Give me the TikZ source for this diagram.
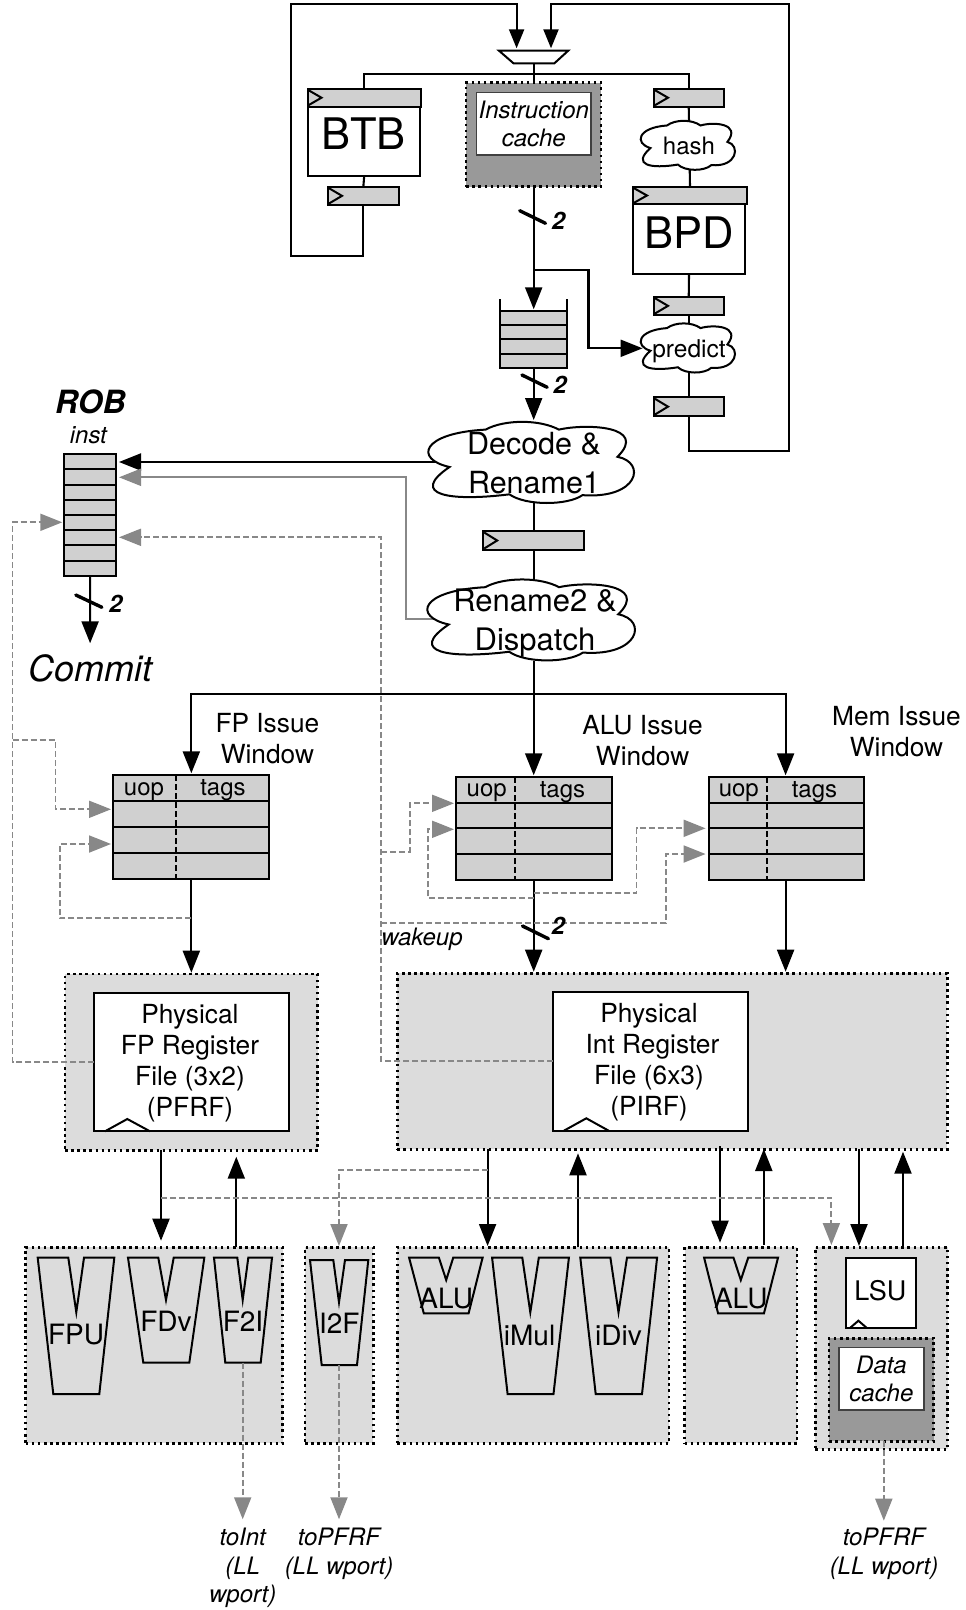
\documentclass[tikz,border=0pt]{standalone}
\usepackage{fontspec}
\setmainfont{TeX Gyre Heros}
\usetikzlibrary{arrows.meta,calc}
\definecolor{cellgray}{HTML}{D0D0D0}
\definecolor{panelgray}{HTML}{DCDCDC}
\definecolor{cachegray}{HTML}{999999}
\definecolor{wiregray}{HTML}{888888}
\newcommand\fs[2]{\fontsize{#1}{#2}\selectfont}
\newcommand\bx[7]{%
  \pgfmathsetmacro\bxcx{(#3+#5)/2}\pgfmathsetmacro\bxcy{(#4+#6)/2}%
  \pgfmathsetmacro\bxw{#5-#3}\pgfmathsetmacro\bxh{#6-#4}%
  \node[#1,minimum width=\bxw pt,minimum height=\bxh pt,inner sep=0pt,outer sep=0pt] (#2) at (\bxcx,\bxcy) {#7};}
\newcommand\rg[5]{%
  \bx{cell}{#1}{#2}{#3}{#4}{#5}{}%
  \draw[solidbox] ($(#1.north west)+(1,1.5)$) -- ($(#1.west)+(14,0)$) -- ($(#1.south west)+(1,-1.5)$);}
\newcommand\cloudn[6]{%
  \pgfmathsetmacro\cw{#4-#2}\pgfmathsetmacro\ch{#5-#3}%
  \begin{scope}[shift={(#2,#3)},x=\cw pt,y=-\ch pt]
  \draw[solidbox,fill=white,line join=miter]
   (.098,.555) .. controls (-.07,.46) and (-.04,.14) .. (.27,.097)
   .. controls (.36,-.03) and (.53,-.03) .. (.62,.097)
   .. controls (.75,.02) and (1.05,.05) .. (.90,.43)
   .. controls (1.04,.5) and (1.0,.95) .. (.733,.9)
   .. controls (.66,1.03) and (.46,1.03) .. (.384,.89)
   .. controls (.1,.98) and (-.1,.9) .. cycle;
  \end{scope}
  \bx{}{#1}{#2}{#3}{#4}{#5}{}
  #6}
\tikzset{
  solidbox/.style={draw=black,line width=2pt},
  cell/.style={solidbox,fill=cellgray},
  plain/.style={solidbox,fill=white},
  panel/.style={draw=black,fill=panelgray,line width=2.5pt,dash pattern=on 2.5pt off 3.6pt},
  cachebox/.style={draw=black,fill=cachegray,line width=2.5pt,dash pattern=on 2.5pt off 3.6pt},
  cacheinner/.style={draw=black!75,fill=white,line width=1.4pt,font=\fs{24}{28.5}\itshape,align=center},
  wire/.style={draw=black,line width=2.1pt,line join=miter},
  big/.style={-{Triangle[length=22pt,width=17pt]}},
  small/.style={-{Triangle[length=19pt,width=15pt]}},
  gwire/.style={draw=wiregray,line width=2pt,-{Triangle[length=22pt,width=17pt]}},
  gdash/.style={draw=wiregray,line width=1.9pt,dash pattern=on 6pt off 3pt,-{Triangle[length=22pt,width=17pt]}},
  slash/.style={draw=black,line width=3.4pt,line cap=round},
  two/.style={font=\fs{24}{28}\bfseries\itshape,inner sep=0pt},
  lbl/.style={font=\fs{26.3}{31},align=center,inner sep=0pt},
  ilbl/.style={font=\fs{24}{28.5}\itshape,align=center,inner sep=0pt},
  ulbl/.style={font=\fs{28}{32},inner sep=0pt},
  wlbl/.style={font=\fs{24}{28},inner sep=0pt},
  row/.style={solidbox},
  dashrow/.style={draw=black,line width=1.8pt,dash pattern=on 6pt off 3pt},
}
\begin{document}
\begin{tikzpicture}[x=1pt,y=-1pt]
\useasboundingbox (0,0) rectangle (966,1610);

% ---------- panels
\bx{panel}{fppanel}{65}{974}{317.7}{1150.3}{}
\bx{panel}{intpanel}{397.3}{973.3}{947.3}{1149.3}{}
\bx{panel}{fpunits}{25.7}{1247.3}{282.7}{1443.3}{}
\bx{panel}{i2funit}{305}{1247.3}{373.3}{1443.3}{}
\bx{panel}{intunits}{397.3}{1247.3}{669.2}{1443.3}{}
\bx{panel}{alu2unit}{684.6}{1247.3}{797}{1443.3}{}
\bx{panel}{memunit}{815.4}{1247.3}{947.7}{1449.3}{}

% ---------- front end boxes
\draw[solidbox,fill=white] (499,50.7) -- (568.2,50.7) -- (554.4,63.3) -- (513.5,63.3) -- cycle;
\coordinate (muxout) at (533.7,63.3);
\coordinate (muxL) at (516.6,48.3);
\coordinate (muxR) at (551,48.3);

\rg{btbreg}{307.5}{88.7}{421}{106.7}
\bx{plain}{btb}{308}{106.7}{420.4}{176}{}
\rg{btbout}{328}{186.7}{398.7}{205}
\bx{cachebox}{icache}{466.2}{82.7}{601.2}{186.7}{}
\bx{cacheinner}{icachein}{476.6}{92.7}{591}{155}{Instruction\\cache}
\rg{hreg}{654}{88.7}{723.5}{106.7}
\rg{bpdreg}{633}{186.7}{747}{204.3}
\bx{plain}{bpd}{633}{204.3}{745}{274.3}{}
\rg{preg1}{654}{296.7}{723.5}{315}
\rg{preg2}{654}{397.3}{723.5}{416}

% fifo
\bx{cell}{fifo}{500.2}{310.7}{567.2}{368.3}{}
\draw[row] (fifo.west |- 0,325) -- (fifo.east |- 0,325);
\draw[row] (fifo.west |- 0,339.3) -- (fifo.east |- 0,339.3);
\draw[row] (fifo.west |- 0,354) -- (fifo.east |- 0,354);
\draw[row] (fifo.north west) -- ++(0,-11.7);
\draw[row] (fifo.north east) -- ++(0,-11.7);

% ROB
\bx{cell}{rob}{64}{454}{116.2}{575.7}{}
\foreach \yy in {469.3,484.6,499.9,515,530.3,545.4,560.7}
  \draw[row] (rob.west |- 0,\yy) -- (rob.east |- 0,\yy);

\rg{rnreg}{483.2}{531}{584.2}{550}

% ---------- issue windows
\bx{cell}{fpwin}{113.4}{775}{269.3}{879.3}{}
\foreach \yy in {800.7,827,853.3}
  \draw[row] (fpwin.west |- 0,\yy) -- (fpwin.east |- 0,\yy);
\draw[dashrow] (175.6,775) -- (175.6,879.3);
\bx{cell}{aluwin}{456}{777.3}{611.8}{880.3}{}
\foreach \yy in {802.7,828.3,854.3}
  \draw[row] (aluwin.west |- 0,\yy) -- (aluwin.east |- 0,\yy);
\draw[dashrow] (515,777.3) -- (515,880.3);
\bx{cell}{memwin}{708.6}{777.3}{863.8}{880.3}{}
\foreach \yy in {802.7,828.3,854.3}
  \draw[row] (memwin.west |- 0,\yy) -- (memwin.east |- 0,\yy);
\draw[dashrow] (767,777.3) -- (767,880.3);

% ---------- register files
\bx{plain}{pfrf}{94.3}{993.3}{288.7}{1131.3}{}
\draw[solidbox] (105,1131.3) -- (127.3,1119) -- (150,1131.3);
\bx{plain}{pirf}{553}{992.3}{748}{1130.7}{}
\draw[solidbox] (563.9,1130.7) -- (586.3,1118.3) -- (608.7,1130.7);

% ---------- functional units
\tikzset{unit/.style={solidbox,line join=miter}}
\draw[unit] (37.7,1257.7) -- (68.3,1257.7) -- (76.3,1312.3) -- (84,1257.7) -- (114.3,1257.7) -- (99.3,1394) -- (53.3,1394) -- cycle;
\draw[unit] (128,1257.7) -- (158.3,1257.7) -- (166,1300) -- (173.7,1257.7) -- (204.3,1257.7) -- (189.3,1362.7) -- (143.3,1362.7) -- cycle;
\draw[unit] (214,1257.7) -- (237.3,1257.7) -- (242.7,1300) -- (248.3,1257.7) -- (272,1257.7) -- (260.7,1362.7) -- (225.3,1362.7) -- cycle;
\draw[unit] (310,1260) -- (333.3,1260) -- (339,1302.3) -- (345,1260) -- (368.3,1260) -- (357,1365) -- (321.7,1365) -- cycle;
\draw[unit] (409.1,1257.7) -- (438.9,1257.7) -- (446.2,1280) -- (453.2,1257.7) -- (482.6,1257.7) -- (468.6,1313.3) -- (423.8,1313.3) -- cycle;
\draw[unit] (492.1,1257.7) -- (522.3,1257.7) -- (530.3,1312.3) -- (538.8,1257.7) -- (568.9,1257.7) -- (553.5,1394) -- (507.6,1394) -- cycle;
\draw[unit] (580.3,1257.7) -- (610.4,1257.7) -- (618.5,1312.3) -- (627,1257.7) -- (657.1,1257.7) -- (642,1394) -- (595.7,1394) -- cycle;
\draw[unit] (704.1,1257.7) -- (733.5,1257.7) -- (740.8,1280) -- (748.2,1257.7) -- (778,1257.7) -- (764,1313.3) -- (718.1,1313.3) -- cycle;
\coordinate (f2ibot) at (242.7,1362.7);
\coordinate (i2fbot) at (339,1365);

\bx{plain}{lsu}{846.3}{1258.3}{916.4}{1327.7}{}
\draw[solidbox] (850.3,1327.7) -- (858.4,1320.7) -- (866.5,1327.7);
\bx{cachebox}{dcache}{829}{1338.3}{933.7}{1441.3}{}
\bx{cacheinner}{dcachein}{839}{1347.7}{923.8}{1410}{Data\\cache}

% ---------- front end connectors
\coordinate (fetchbus) at (533.7,74);
\coordinate (lbot) at (290.7,255.7);
\coordinate (ltop) at (290.7,4);
\coordinate (rbot) at (789,451);
\coordinate (rtop) at (789,4);
\draw[wire,small] (btbout.south) |- (lbot) -- (ltop) -| (muxL);
\draw[wire,small] (preg2.south) |- (rbot) -- (rtop) -| (muxR);
\draw[wire] (muxout) -- (icache.north);
\draw[wire] (btbreg.north) |- (fetchbus) -| (hreg.north);
\draw[wire] (btb.south) -- (btbout.north);
\draw[wire] (hreg.south) -- (bpdreg.north);
\draw[wire] (bpd.south) -- (preg1.north);
\draw[wire] (preg1.south) -- (preg2.north);
\draw[wire,big,shorten >=1.4pt] (icache.south) -- (fifo.north);
\draw[wire,big,shorten >=1.7pt] (fifo.south) -- (533.7,421.7);
\coordinate (ibr) at (533.7,270);
\coordinate (ibrc) at (588.5,270);
\coordinate (predtip) at (642.6,348.3);
\draw[slash] (519.7,210.7) -- (545.5,223.3);
\draw[slash] (522,375) -- (547.2,387.3);

% decode / rename connectors (under the clouds)
\coordinate (decL) at (480,462);
\coordinate (robA) at (rob.east |- 0,462);
\draw[wire,big,shorten >=2.8pt] (decL) -- (robA);
\coordinate (renL) at (480,619.3);
\coordinate (renC) at (406,619.3);
\coordinate (robB) at (rob.east |- 0,477.3);
\draw[gwire,shorten >=2.8pt] (renL) -- (renC) |- (robB);
\draw[wire] (533.7,480) -- (rnreg.north);
\draw[wire] (rnreg.south) -- (533.7,600);

% clouds
\cloudn{decode}{429}{421.7}{638.4}{503.3}{\node[font=\fs{30.5}{39},align=center,inner sep=0pt] (decodetxt) at (534,463) {Decode \&\\Rename1};}
\cloudn{rename}{428}{579.3}{639.4}{660.7}{\node[font=\fs{31}{39},align=center,inner sep=0pt] (renametxt) at (535,623.5) {Rename2 \&\\Dispatch};}
\cloudn{hash}{641}{120.7}{737}{170}{\node[font=\fs{24}{27},inner sep=0pt] (hashtxt) at (689,145.5) {hash};}
\cloudn{predict}{641}{323.3}{737}{372.7}{\node[font=\fs{24.5}{27},inner sep=0pt] (predicttxt) at (689,351) {predict};}
\draw[wire,big] (ibr) -- (ibrc) |- (predtip);

% ---------- dispatch
\coordinate (dispbus) at (533.7,694);
\draw[wire,big,shorten >=1.7pt] (rename.south) -- (dispbus) -| (fpwin.north);
\draw[wire,big,shorten >=2pt] (dispbus) -| (memwin.north -| 785.6,0);
\draw[wire,big,shorten >=2pt] (dispbus) -- (533.7,777.3);

% ROB out
\coordinate (commitin) at (90.1,643.3);
\draw[wire,big] (rob.south) -- (commitin);
\draw[slash] (75.8,595) -- (101.9,607.3);

% window outs
\draw[wire,big,shorten >=1.3pt] (fpwin.south) -- (fppanel.north);
\coordinate (alutop) at (533.7,880.3);
\coordinate (alubot) at (533.7,973.3);
\draw[wire,big,shorten >=1.6pt] (alutop) -- (alubot);
\coordinate (memtop) at (785.6,880.3);
\coordinate (membot) at (785.6,973.3);
\draw[wire,big,shorten >=1.6pt] (memtop) -- (membot);
\draw[slash] (522.5,926) -- (548.4,938.7);

% ---------- dashed feedback
\coordinate (busLb) at (12.5,1062.3);
\coordinate (busLt) at (12.5,522.3);
\coordinate (robC) at (rob.west |- 0,522.3);
\draw[gdash,shorten >=1.7pt] (pfrf.west) -- (busLb) -- (busLt) -- (robC);
\coordinate (fwa) at (12.5,740);
\coordinate (fwb) at (55.5,740);
\coordinate (fwc) at (fpwin.west |- 0,809.3);
\draw[gdash,shorten >=2.4pt] (fwa) -- (fwb) |- (fwc);
\coordinate (fwd) at (191.35,918);
\coordinate (fwe) at (59.8,918);
\coordinate (fwf) at (fpwin.west |- 0,844);
\draw[gdash,shorten >=2.4pt] (fwd) -- (fwe) |- (fwf);

\coordinate (busIb) at (381.4,1061);
\coordinate (busIt) at (381.4,537.3);
\coordinate (robD) at (rob.east |- 0,537.3);
\draw[gdash,shorten >=2.8pt] (pirf.west |- busIb) -- (busIb) -- (busIt) -- (robD);
\coordinate (awa) at (381.4,851.7);
\coordinate (awb) at (409.7,851.7);
\coordinate (awc) at (aluwin.west |- 0,803.3);
\draw[gdash,shorten >=2pt] (awa) -- (awb) |- (awc);
\coordinate (awd) at (533.7,898.3);
\coordinate (awe) at (427.6,898.3);
\coordinate (awf) at (aluwin.west |- 0,829.3);
\draw[gdash,shorten >=2pt] (awd) -- (awe) |- (awf);
\coordinate (mwa) at (533.7,893.3);
\coordinate (mwb) at (636.5,893.3);
\coordinate (mwc) at (memwin.west |- 0,828.3);
\draw[gdash,shorten >=3pt] (mwa) -- (mwb) |- (mwc);
\coordinate (mwd) at (381.4,923.3);
\coordinate (mwe) at (666,923.3);
\coordinate (mwf) at (memwin.west |- 0,854);
\draw[gdash,shorten >=3pt] (mwd) -- (mwe) |- (mwf);

% ---------- regfile <-> units
\coordinate (fpdn) at (161,1150.3);
\coordinate (fpdnb) at (161,1240.7);
\draw[wire,big] (fpdn) -- (fpdnb);
\coordinate (fpup) at (236.3,1246.7);
\coordinate (fpupt) at (236.3,1156.7);
\draw[wire,big] (fpup) -- (fpupt);
\coordinate (i1dn) at (487.6,1149.3);
\coordinate (i1dnb) at (487.6,1246);
\draw[wire,big] (i1dn) -- (i1dnb);
\coordinate (i1up) at (578,1247.3);
\coordinate (i1upt) at (578,1153.3);
\draw[wire,big] (i1up) -- (i1upt);
\coordinate (i2dn) at (720,1146);
\coordinate (i2dnb) at (720,1242.7);
\draw[wire,big] (i2dn) -- (i2dnb);
\coordinate (i2up) at (763.8,1245);
\coordinate (i2upt) at (763.8,1149);
\draw[wire,big] (i2up) -- (i2upt);
\coordinate (m1dn) at (859,1149.3);
\coordinate (m1dnb) at (859,1246);
\draw[wire,big] (m1dn) -- (m1dnb);
\coordinate (m1up) at (903,1247.3);
\coordinate (m1upt) at (903,1151.7);
\draw[wire,big] (m1up) -- (m1upt);

% dashed bypass
\coordinate (byA) at (161,1197.7);
\coordinate (byB) at (831.4,1245);
\draw[gdash] (byA) -| (byB);
\coordinate (byC) at (487.6,1170);
\coordinate (byD) at (339,1246);
\draw[gdash] (byC) -| (byD);

% out of units
\coordinate (toint) at (242.7,1519.3);
\draw[gdash] (f2ibot) -- (toint);
\coordinate (topfrfa) at (339,1519.3);
\draw[gdash] (i2fbot) -- (topfrfa);
\coordinate (topfrfb) at (883.8,1520.7);
\draw[gdash] (dcache.south -| topfrfb) -- (topfrfb);

% ---------- labels
\node[font=\fs{43.5}{48},inner sep=0pt] (btbtxt) at (363.7,134) {BTB};
\node[font=\fs{43.5}{48},inner sep=0pt] (bpdtxt) at (689,232.5) {BPD};
\node[two] (two1) at (558.6,220.7) {2};
\node[two] (two2) at (560,385) {2};
\node[two] (two3) at (115.7,604.3) {2};
\node[two] (two4) at (558.2,926) {2};
\node[font=\fs{32}{36}\bfseries\itshape,inner sep=0pt] (robtxt) at (90.5,401.7) {ROB};
\node[font=\fs{24}{28}\itshape,inner sep=0pt] (insttxt) at (88.4,435) {inst};
\node[font=\fs{36}{42}\itshape,inner sep=0pt] (committxt) at (90.5,668.3) {Commit};
\node[ilbl] (wakeup) at (422,939.5) {wakeup};

\node[lbl] (fplbl) at (267.4,739) {FP Issue\\Window};
\node[lbl] (alulbl) at (642.6,741) {ALU Issue\\Window};
\node[lbl] (memlbl) at (896.5,732) {Mem Issue\\Window};

\node[wlbl] (u1) at (144,791.5) {uop};
\node[wlbl] (t1) at (223,790.5) {tags};
\node[wlbl] (u2) at (486.7,793) {uop};
\node[wlbl] (t2) at (562.5,792) {tags};
\node[wlbl] (u3) at (738.8,793) {uop};
\node[wlbl] (t3) at (814.5,792) {tags};

\node[lbl] (pfrftxt) at (190,1063) {Physical\\FP Register\\File (3x2)\\(PFRF)};
\node[lbl] (pirftxt) at (649,1062.5) {Physical\\\hspace*{7pt}Int Register\\File (6x3)\\(PIRF)};

\node[ulbl] (fputxt) at (76,1335) {FPU};
\node[ulbl] (fdvtxt) at (166,1321.7) {FDv};
\node[ulbl] (f2itxt) at (243,1321.7) {F2I};
\node[ulbl] (i2ftxt) at (339.3,1323.3) {I2F};
\node[ulbl] (alu1txt) at (446.2,1298.3) {ALU};
\node[ulbl] (imultxt) at (529.6,1335) {iMul};
\node[ulbl] (idivtxt) at (618.5,1335) {iDiv};
\node[ulbl] (alu2txt) at (740.8,1298.3) {ALU};
\node[ulbl,font=\fs{27}{32}] (lsutxt) at (880.4,1290.7) {LSU};

\node[ilbl] (tointtxt) at (242.7,1568) {toInt\\(LL\\wport)};
\node[ilbl] (topfrf1) at (339,1554) {toPFRF\\(LL wport)};
\node[ilbl] (topfrf2) at (884,1554) {toPFRF\\(LL wport)};
\end{tikzpicture}
\end{document}
